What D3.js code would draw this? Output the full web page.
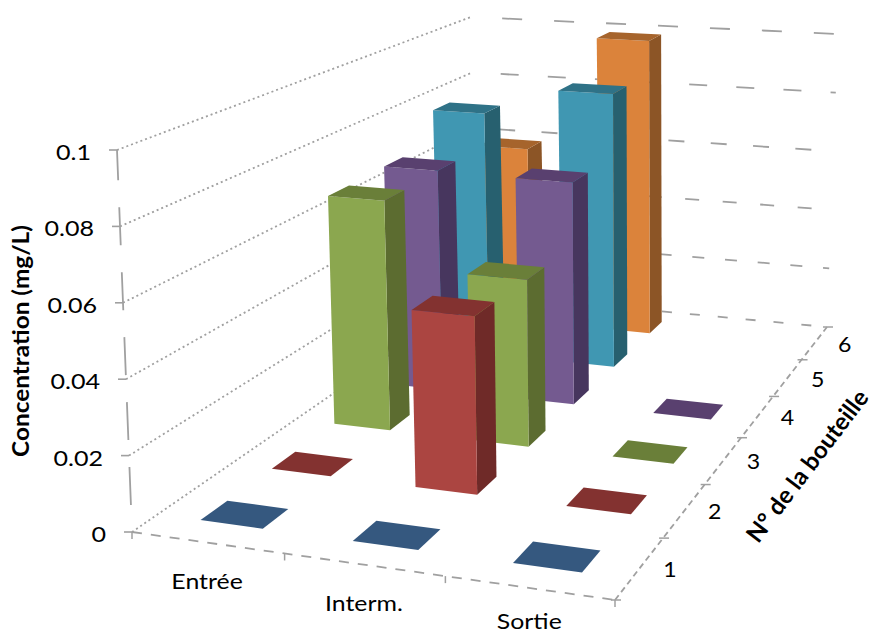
<!DOCTYPE html>
<html><head><meta charset="utf-8">
<style>html,body{margin:0;padding:0;background:#fff}svg{display:block}text{font-family:Lato,"Open Sans",sans-serif;fill:#000}</style>
<script src="https://cdn.jsdelivr.net/npm/d3@7/dist/d3.min.js"></script></head><body>
<script>
const categories=["Entrée","Interm.","Sortie"];
const bottles=["1","2","3","4","5","6"];
const valueTicks=[0,0.02,0.04,0.06,0.08,0.1];
const tickLabels=["0","0.02","0.04","0.06","0.08","0.1"];
const bottle1=[0,0,0];
const bottle2=[0,0.049,0];
const bottle3=[0.068,0.0485,0];
const bottle4=[0.0685,0.068,0];
const bottle5=[0.079,0.088,null];
const bottle6=[0.0595,0.099,null];
const seriesValues=[bottle1,bottle2,bottle3,bottle4,bottle5,bottle6];
const fronts=["#4F81BD","#AB4541","#8BA74F","#745A90","#4097B2","#DB833B"];
const sides=["#2C4D75","#6F2A28","#5C6C30","#47365E","#27606F","#8C5526"];
const tops=["#35587F","#833230","#6A7F39","#59406F","#2F7287","#A6642C"];

const W=869,H=634;
const svg=d3.select("body").append("svg").attr("width",W).attr("height",H);

// corners of the 3D box on screen: [u,v] = (0,0),(1,0),(1,1),(0,1)
const floorQuad=[[132,532],[615,600],[827,327],[478,294]];
const topQuad=[[117,150],[624,196],[838,34],[471,17]];
function homography(q){
  const [[x0,y0],[x1,y1],[x2,y2],[x3,y3]]=q;
  const dx1=x1-x2,dx2=x3-x2,sx=x0-x1+x2-x3,dy1=y1-y2,dy2=y3-y2,sy=y0-y1+y2-y3;
  const d=dx1*dy2-dx2*dy1;
  const g=(sx*dy2-dx2*sy)/d,h=(dx1*sy-sx*dy1)/d;
  const a=x1-x0+g*x1,b=x3-x0+h*x3,c=x0,e=y1-y0+g*y1,f=y3-y0+h*y3,i=y0;
  return (u,v)=>{const w=g*u+h*v+1;return [(a*u+b*v+c)/w,(e*u+f*v+i)/w];};
}
const F=homography(floorQuad),T=homography(topQuad);
const project=(u,v,t)=>{const p=F(u,v),q=T(u,v);return [p[0]+(q[0]-p[0])*t,p[1]+(q[1]-p[1])*t];};

const xScale=d3.scaleBand().domain(categories).range([0,1]).paddingInner(0.585).paddingOuter(0.29);
const yScale=d3.scaleBand().domain(bottles).range([0,1]).paddingInner(0.64).paddingOuter(0.32);
const zScale=d3.scaleLinear().domain([0,0.1]).range([0,1]);
const line=d3.line();
const poly=pts=>line(pts)+"Z";

const axes=svg.append("g").attr("fill","none").attr("stroke","#a0a0a0");
valueTicks.forEach(v=>{
  const t=zScale(v);
  axes.append("path").attr("d",line([project(0,0,t),project(0,1,t)])).attr("stroke-width",1.8).attr("stroke-dasharray","2 3");
  const per=28+24*t, dash=10+10*t;
  axes.append("path").attr("d",line([project(0,1,t),project(1,1,t)])).attr("stroke-width",1.8).attr("stroke-dasharray",`${dash} ${per-dash}`).attr("stroke-dashoffset",-per*0.6);
  axes.append("path").attr("d",line([project(0,0,t),[project(0,0,t)[0]-8,project(0,0,t)[1]]])).attr("stroke-width",1.6);
});
axes.append("path").attr("d",line([project(0,0,0),project(0,0,1)])).attr("stroke-width",1.8).attr("stroke-dasharray","38 27").attr("stroke-dashoffset",38);
axes.append("path").attr("d",line([project(0,0,0),project(1,0,0)])).attr("stroke-width",1.8).attr("stroke-dasharray","10 9");
axes.append("path").attr("d",line([project(1,0,0),project(1,1,0)])).attr("stroke-width",1.8).attr("stroke-dasharray","6 4");
const xEdges=d3.scaleLinear().domain([0,categories.length]).range([0,1]);
d3.range(categories.length+1).forEach(i=>{const p=project(xEdges(i),0,0);
  axes.append("path").attr("d",line([p,[p[0],p[1]+7]])).attr("stroke-width",1.5);});
const yEdges=d3.scaleLinear().domain([0,bottles.length]).range([0,1]);
d3.range(bottles.length+1).forEach(i=>{const p=project(1,yEdges(i),0);
  axes.append("path").attr("d",line([[p[0]-4,p[1]],[p[0]+6,p[1]]])).attr("stroke-width",1.5);});

const bars=svg.append("g");
d3.range(bottles.length-1,-1,-1).forEach(r=>{
  categories.forEach((c,i)=>{
    const val=seriesValues[r][i]; if(val==null) return;
    const u0=xScale(c),u1=u0+xScale.bandwidth(),v0=yScale(bottles[r]),v1=v0+yScale.bandwidth(),t=zScale(val);
    if(val>0){
      bars.append("path").attr("d",poly([project(u1,v0,0),project(u1,v1,0),project(u1,v1,t),project(u1,v0,t)])).attr("fill",sides[r]);
      bars.append("path").attr("d",poly([project(u0,v0,0),project(u1,v0,0),project(u1,v0,t),project(u0,v0,t)])).attr("fill",fronts[r]);
    }
    bars.append("path").attr("d",poly([project(u0,v0,t),project(u1,v0,t),project(u1,v1,t),project(u0,v1,t)])).attr("fill",tops[r]);
  });
});

const labels=svg.append("g");
const label=(x,y,anchor,size,sx,txt)=>labels.append("text").attr("transform",`translate(${x},${y}) scale(${sx},1)`).attr("text-anchor",anchor).attr("font-size",size).text(txt);
valueTicks.forEach((v,i)=>{const p=project(0,0,zScale(v));
  label(p[0]-26,p[1]+10,"end",22,1.14,tickLabels[i]);});
categories.forEach(c=>{const p=project(xScale(c)+xScale.bandwidth()/2,0,0);
  label(p[0],Math.min(p[1]+46,629),"middle",22,1.13,c);});
bottles.forEach(b=>{const p=project(1,yScale(b)+yScale.bandwidth()/2,0);
  label(p[0]+30,p[1]+9,"middle",21,1.1,b);});
labels.append("text").attr("transform","translate(29,341) rotate(-90) scale(1.06,1)").attr("text-anchor","middle").attr("font-size",23).attr("font-weight",700).text("Concentration (mg/L)");
labels.append("text").attr("transform","translate(814,471) rotate(-52.7)").attr("text-anchor","middle").attr("font-size",24).attr("font-weight",700).text("N° de la bouteille");
</script></body></html>
